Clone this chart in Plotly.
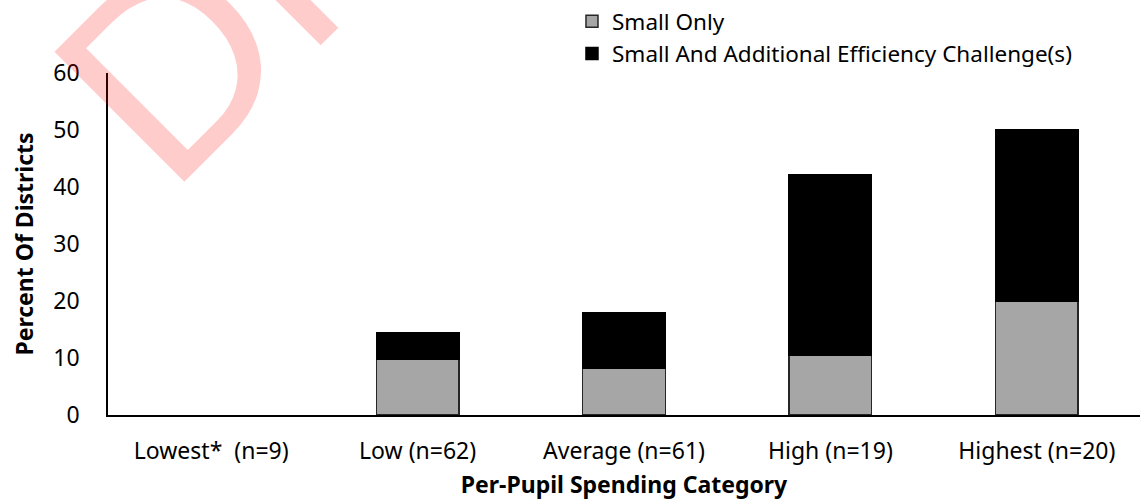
import plotly.graph_objects as go

# Per-pupil spending categories and district shares (percent of districts)
categories = ["Lowest*\u00a0 (n=9)", "Low (n=62)", "Average (n=61)", "High (n=19)", "Highest (n=20)"]
small_only = [0, 9.7, 8.2, 10.5, 20.0]
small_and_additional = [0, 4.8, 9.8, 31.6, 30.0]
y_ticks = [0, 10, 20, 30, 40, 50, 60]

FONT = "Noto Sans"
FS = 23


def outline(values, width=1.5):
    # no outline on empty bars so nothing is drawn over the baseline
    return [width if v > 0 else 0 for v in values]


def stacked_bar(values, name, fill, edge):
    # points are fed last-to-first (the axis order comes from categoryarray),
    # so the legend swatch takes its outline from a non-empty bar
    return go.Bar(
        x=categories[::-1], y=values[::-1], name=name, width=0.4,
        marker=dict(color=fill, line=dict(color=edge, width=outline(values)[::-1])),
    )


fig = go.Figure()
fig.add_trace(stacked_bar(small_only, "Small Only", "#A6A6A6", "#262626"))
fig.add_trace(stacked_bar(small_and_additional, "Small And Additional Efficiency Challenge(s)",
                          "#000000", "#000000"))

# Watermark
fig.add_annotation(
    text="DRAFT", xref="paper", yref="paper", x=0.30, y=1.748,
    xanchor="center", yanchor="middle", textangle=-45, showarrow=False,
    font=dict(family="Liberation Sans", size=267, color="rgba(255,0,0,0.2)"),
)

fig.update_layout(
    width=1140, height=500,
    margin=dict(l=108, r=0, t=72, b=85),
    paper_bgcolor="white", plot_bgcolor="white",
    barmode="stack",
    font=dict(family=FONT, size=FS, color="#000000"),
    showlegend=True,
    legend=dict(
        x=0.4496, y=1.215, xanchor="left", yanchor="top",
        traceorder="normal", font=dict(family=FONT, size=22.5),
        itemwidth=30, tracegroupgap=0, bgcolor="rgba(0,0,0,0)",
    ),
    xaxis=dict(
        categoryorder="array", categoryarray=categories,
        range=[-0.5, 4.5], showline=True, linecolor="#000000", linewidth=1.5,
        ticks="", showgrid=False, zeroline=False, ticklabelstandoff=15,
        automargin=False,
        title=dict(text="<b>Per-Pupil Spending Category</b>", standoff=17,
                   font=dict(family=FONT, size=FS)),
    ),
    yaxis=dict(
        range=[0, 60], tickvals=y_ticks, showline=True, linecolor="#000000",
        linewidth=1.5, ticks="", showgrid=False, zeroline=False,
        ticklabelstandoff=22, automargin=False,
        title=dict(text="<b>Percent Of Districts</b>", standoff=13,
                   font=dict(family=FONT, size=FS)),
    ),
)

fig.write_html("out.html")
